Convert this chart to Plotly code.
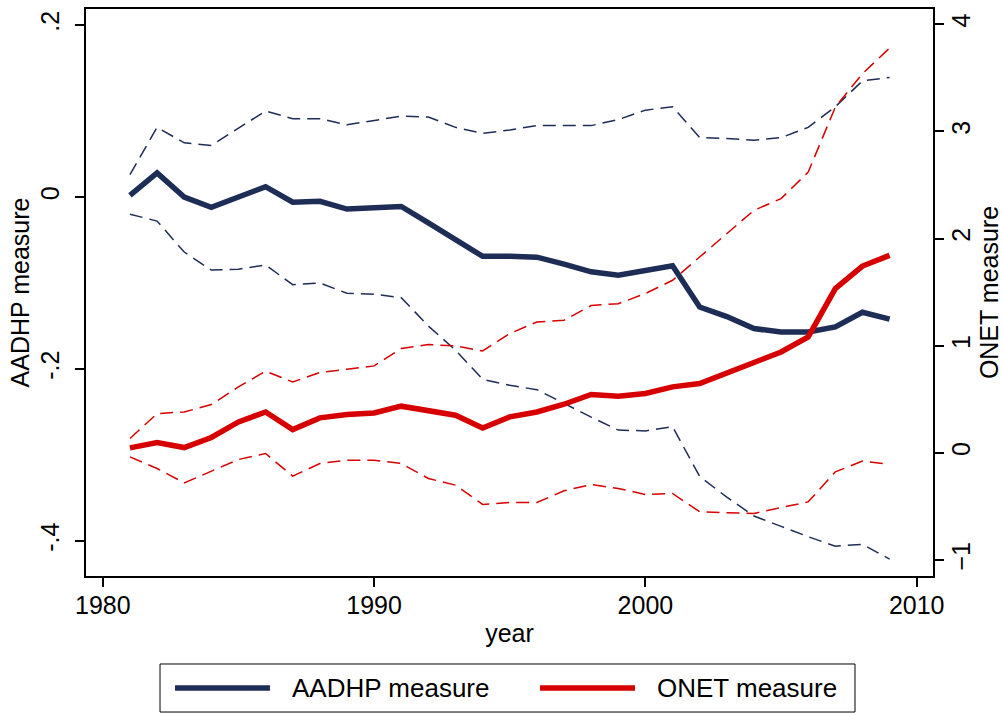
import plotly.graph_objects as go

years = list(range(1981, 2010))

aadhp = [0.002, 0.028, 0.000, -0.012, 0.000, 0.012, -0.006, -0.005, -0.014, -0.012,
         -0.011, -0.030, -0.050, -0.069, -0.069, -0.070, -0.078, -0.087, -0.091, -0.085,
         -0.080, -0.128, -0.139, -0.153, -0.157, -0.157, -0.151, -0.134, -0.142]
aadhp_hi = [0.026, 0.081, 0.063, 0.060, 0.080, 0.100, 0.091, 0.091, 0.084, 0.089,
            0.094, 0.093, 0.081, 0.074, 0.078, 0.083, 0.083, 0.083, 0.090, 0.101,
            0.105, 0.069, 0.068, 0.066, 0.069, 0.081, 0.105, 0.135, 0.139]
aadhp_lo = [-0.020, -0.028, -0.064, -0.085, -0.084, -0.079, -0.102, -0.100, -0.112, -0.113,
            -0.117, -0.150, -0.178, -0.212, -0.219, -0.224, -0.240, -0.256, -0.271, -0.272,
            -0.267, -0.325, -0.349, -0.371, -0.383, -0.395, -0.406, -0.404, -0.421]

onet = [0.047, 0.097, 0.050, 0.144, 0.289, 0.382, 0.218, 0.327, 0.358, 0.373,
        0.436, 0.389, 0.352, 0.233, 0.336, 0.382, 0.454, 0.545, 0.529, 0.554,
        0.616, 0.647, 0.746, 0.855, 0.942, 1.082, 1.534, 1.744, 1.844]
onet_hi = [0.134, 0.367, 0.382, 0.451, 0.616, 0.762, 0.662, 0.750, 0.781, 0.812,
           0.974, 1.011, 0.998, 0.951, 1.114, 1.222, 1.238, 1.375, 1.393, 1.487,
           1.611, 1.828, 2.047, 2.264, 2.373, 2.621, 3.228, 3.539, 3.778]
onet_lo = [-0.037, -0.146, -0.280, -0.168, -0.062, -0.006, -0.217, -0.099, -0.068, -0.068,
           -0.099, -0.239, -0.301, -0.481, -0.463, -0.463, -0.354, -0.295, -0.332, -0.388,
           -0.379, -0.550, -0.560, -0.566, -0.510, -0.457, -0.177, -0.077, -0.105]

series_names = ["AADHP measure", "ONET measure"]

navy = "#1e2d56"
red = "#d60000"
font = "Liberation Sans, Arial, sans-serif"

fig = go.Figure()

for ys in (aadhp_hi, aadhp_lo):
    fig.add_trace(go.Scatter(x=years, y=ys, mode="lines", showlegend=False, hoverinfo="skip",
                             line=dict(color=navy, width=1.5, dash="13px,7px")))
for ys in (onet_hi, onet_lo):
    fig.add_trace(go.Scatter(x=years, y=ys, mode="lines", showlegend=False, hoverinfo="skip",
                             yaxis="y2", line=dict(color=red, width=1.5, dash="13px,7px")))

fig.add_trace(go.Scatter(x=years, y=aadhp, mode="lines", name=series_names[0],
                         line=dict(color=navy, width=5.5)))
fig.add_trace(go.Scatter(x=years, y=onet, mode="lines", name=series_names[1], yaxis="y2",
                         line=dict(color=red, width=5.5)))

axis_common = dict(showgrid=False, zeroline=False, showline=True, linecolor="black",
                   linewidth=1.5, ticks="outside", ticklen=9, tickwidth=1.5, tickcolor="black",
                   tickfont=dict(size=25, color="black"), automargin=False)

# Stata-style legend box below the plot (long line keys)
leg_y = -0.1975
fig.add_shape(type="rect", xref="paper", yref="paper", x0=0.0874, x1=0.9079, y0=-0.2399, y1=-0.1552,
              line=dict(color="black", width=1), fillcolor="rgba(0,0,0,0)", opacity=1)
for x0, x1, color in ((0.1051, 0.2172, navy), (0.5360, 0.6482, red)):
    fig.add_shape(type="line", xref="paper", yref="paper", x0=x0, x1=x1, y0=leg_y, y1=leg_y,
                  line=dict(color=color, width=5.5), opacity=1)
for x, txt in ((0.2409, series_names[0]), (0.6718, series_names[1])):
    fig.add_annotation(x=x, y=leg_y, xref="paper", yref="paper", text=txt, showarrow=False,
                       xanchor="left", yanchor="middle", font=dict(size=26, color="black"))

fig.update_layout(
    width=1003, height=713,
    template="simple_white",
    font=dict(family=font, size=25, color="black"),
    margin=dict(l=86, r=70, t=9, b=137),
    showlegend=False,
    xaxis=dict(range=[1979.38, 2010.6], tickvals=[1980, 1990, 2000, 2010], mirror=True,
               ticklabelstandoff=-3,
               title=dict(text="year", font=dict(size=25), standoff=7), **axis_common),
    yaxis=dict(range=[-0.4407, 0.2186], tickvals=[-0.4, -0.2, 0, 0.2],
               ticktext=["-.4", "-.2", "0", ".2"], tickangle=-90, ticklabelstandoff=6,
               title=dict(text="AADHP measure", font=dict(size=25), standoff=0), **axis_common),
    yaxis2=dict(range=[-1.149, 4.143], tickvals=[-1, 0, 1, 2, 3, 4], overlaying="y",
                side="right", tickangle=-90, ticklabelstandoff=-4,
                title=dict(text="ONET measure", font=dict(size=25), standoff=8), **axis_common),
)

fig.write_html("out.html", config={"displayModeBar": False},
               post_script="document.body.style.margin='0';")
